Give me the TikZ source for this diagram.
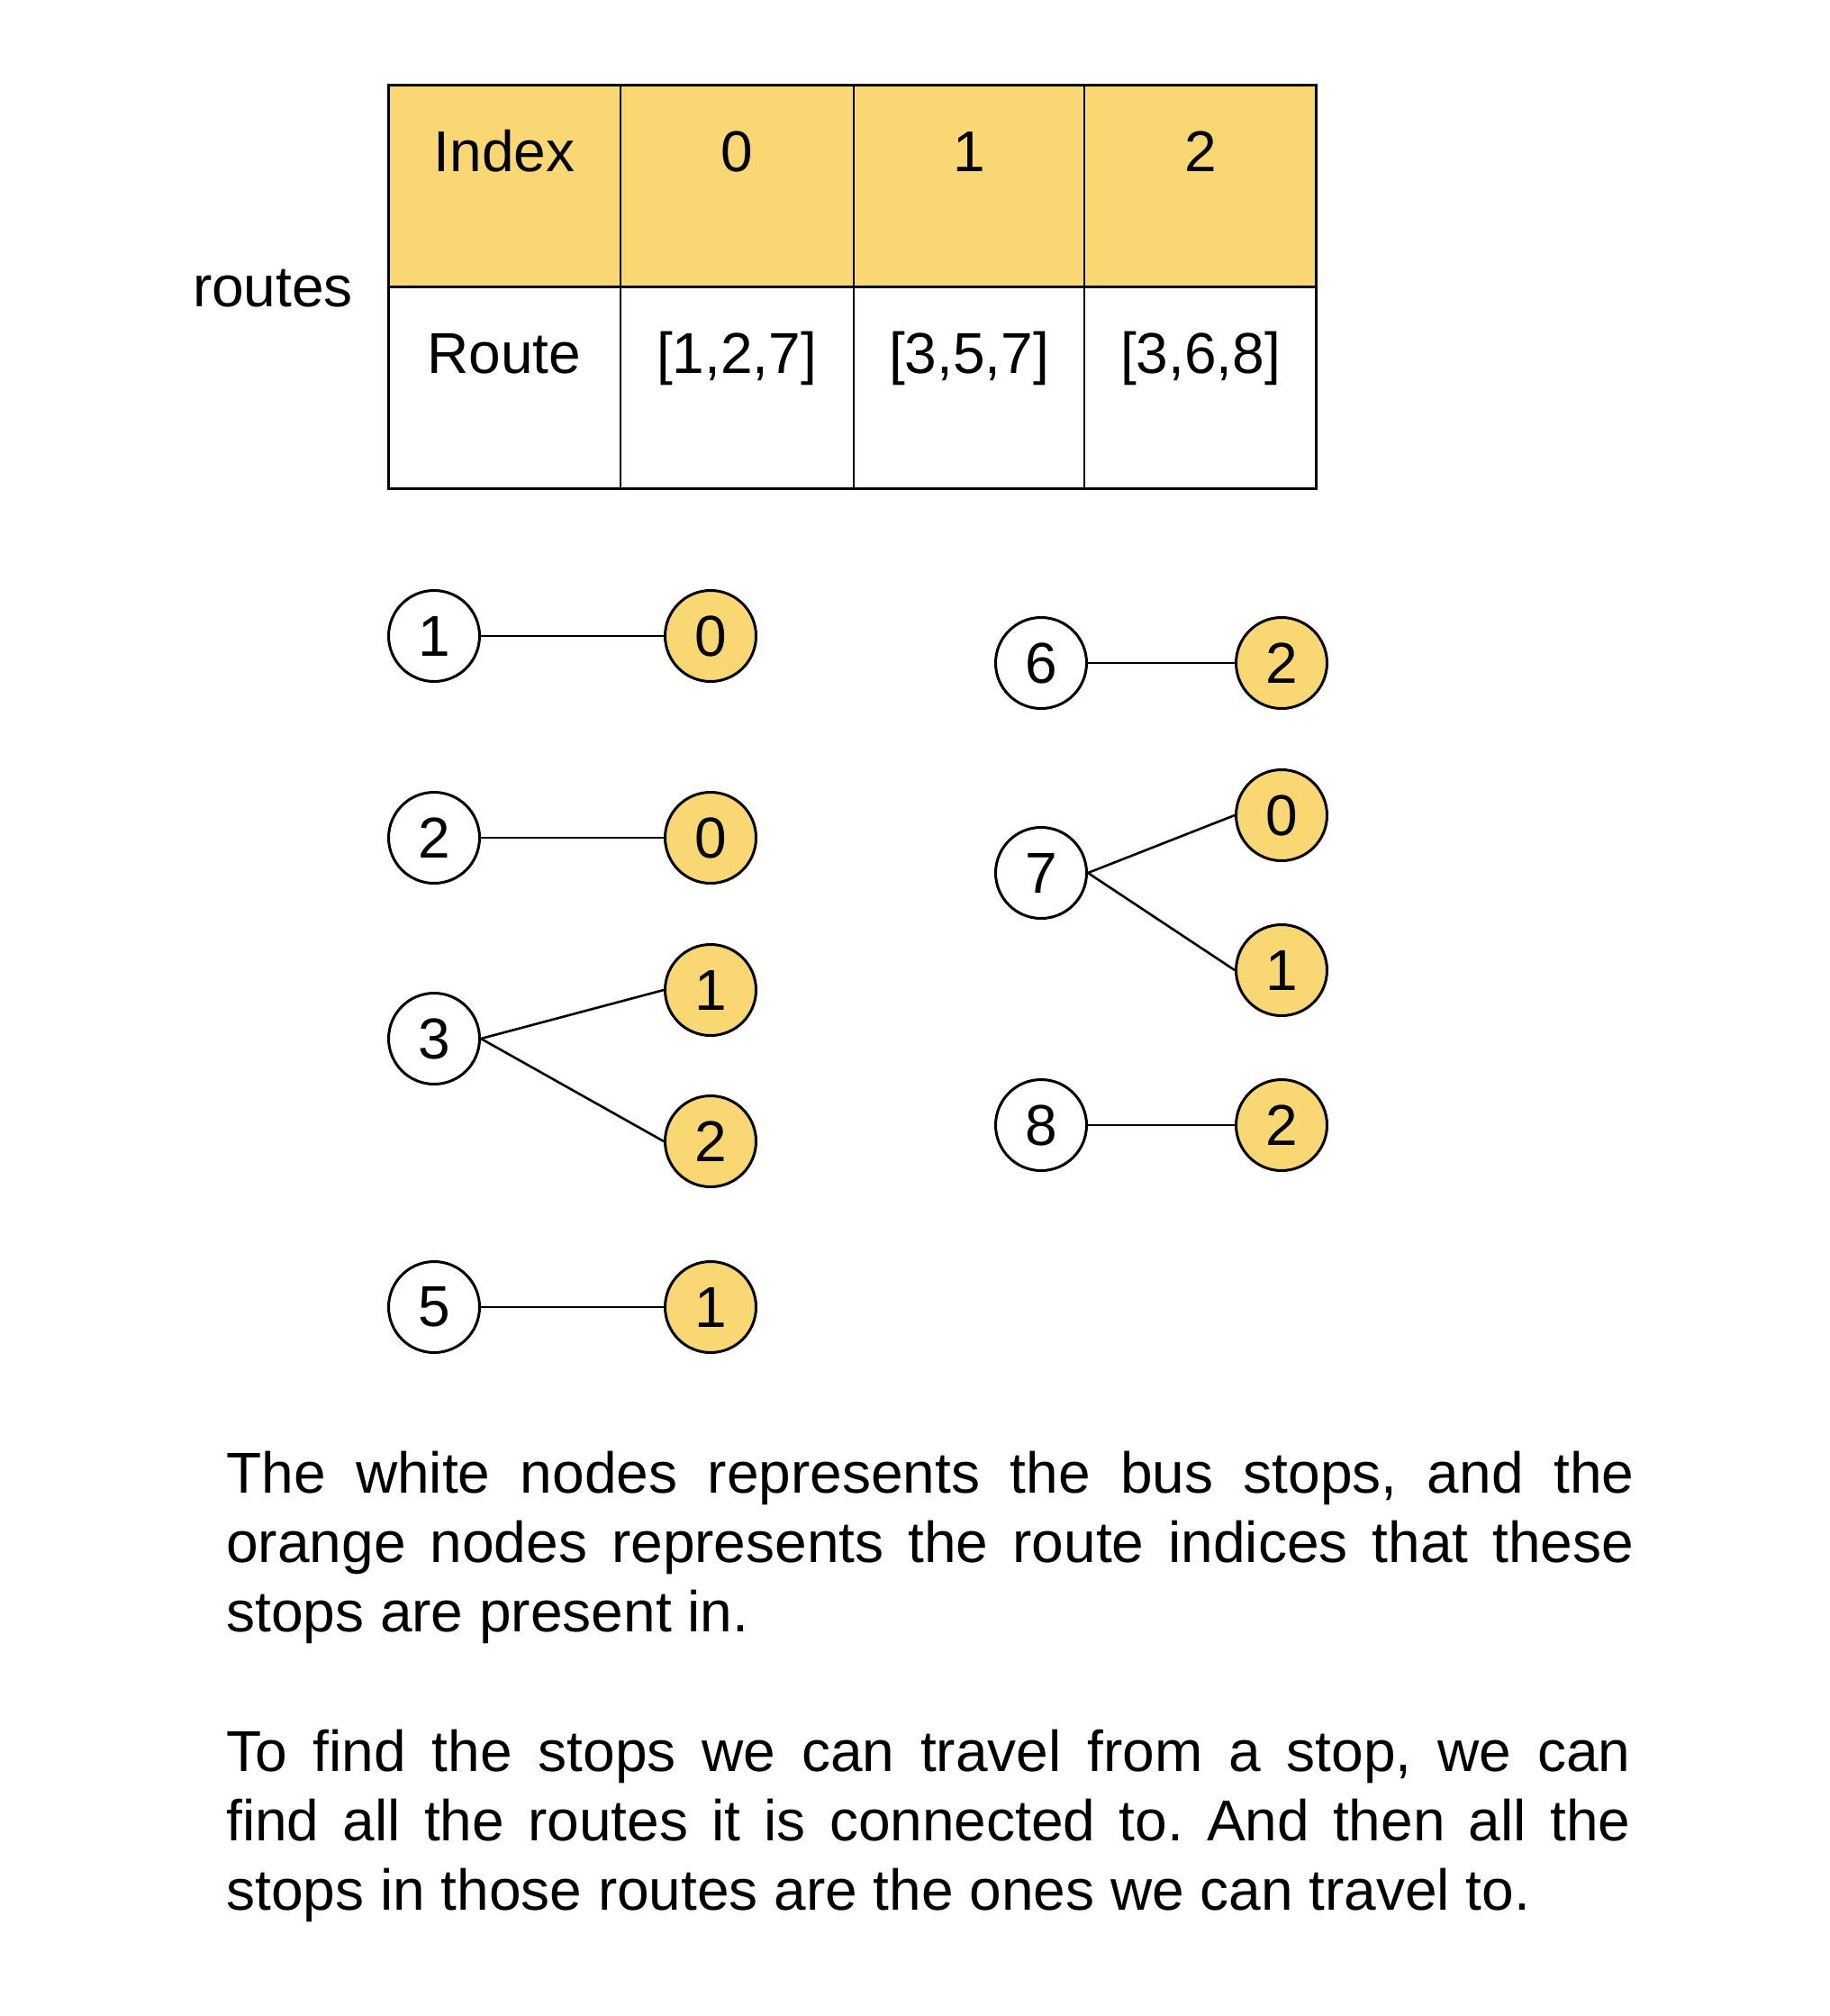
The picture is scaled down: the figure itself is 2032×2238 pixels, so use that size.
\documentclass[tikz,border=0pt]{standalone}
\usepackage{fontspec}
\setmainfont{Liberation Sans}
\definecolor{routeyellow}{HTML}{F9D874}
\frenchspacing
\begin{document}
\begin{tikzpicture}[x=0.5pt,y=-0.5pt]
\tikzset{
  lbl/.style={anchor=base, inner sep=0pt, font=\fontsize{32}{38}\selectfont},
  para/.style={anchor=base west, inner sep=0pt, font=\fontsize{32}{38}\selectfont},
  stop/.style={circle, draw, line width=1.5pt, minimum size=50.5pt, inner sep=0pt, fill=white, font=\fontsize{32}{38}\selectfont},
  ridx/.style={stop, fill=routeyellow},
  link/.style={line width=1.3pt},
  grid/.style={line width=1.5pt}
}
\useasboundingbox (0,0) rectangle (2032,2238);
\fill[white] (0,0) rectangle (2032,2238);
% table
\fill[routeyellow] (431,94) rectangle (1461,318);
\draw[grid] (431,94) rectangle (1461,542);
\draw[grid] (431,318) -- (1461,318);
\draw[line width=1.2pt] (689,94) -- (689,542) (948,94) -- (948,542) (1204,94) -- (1204,542);
\node[lbl] (hidx) at (560,190) {Index};
\node[lbl] (h0) at (818,190) {0};
\node[lbl] (h1) at (1076,190) {1};
\node[lbl] (h2) at (1333,190) {2};
\node[lbl] (rlab) at (560,414) {Route};
\node[lbl] (r0) at (818,414) {[1,2,7]};
\node[lbl] (r1) at (1076,414) {[3,5,7]};
\node[lbl] (r2) at (1333,414) {[3,6,8]};
\node[lbl] (routes) at (303,340) {routes};
% left graph
\node[stop] (s1) at (482,706) {1};
\node[ridx] (a0) at (789,706) {0};
\node[stop] (s2) at (482,930) {2};
\node[ridx] (b0) at (789,930) {0};
\node[stop] (s3) at (482,1153) {3};
\node[ridx] (c1) at (789,1099) {1};
\node[ridx] (c2) at (789,1267) {2};
\node[stop] (s5) at (482,1451) {5};
\node[ridx] (d1) at (789,1451) {1};
\draw[link] (s1) -- (a0);
\draw[link] (s2) -- (b0);
\draw[link] (s3.east) -- (c1.west);
\draw[link] (s3.east) -- (c2.west);
\draw[link] (s5) -- (d1);
% right graph
\node[stop] (s6) at (1156,736) {6};
\node[ridx] (e2) at (1423,736) {2};
\node[stop] (s7) at (1156,969) {7};
\node[ridx] (f0) at (1423,905) {0};
\node[ridx] (f1) at (1423,1077) {1};
\node[stop] (s8) at (1156,1249) {8};
\node[ridx] (g2) at (1423,1249) {2};
\draw[link] (s6) -- (e2);
\draw[link] (s7.east) -- (f0.west);
\draw[link] (s7.east) -- (f1.west);
\draw[link] (s8) -- (g2);
% explanation
\node[para] (p1) at (251,1657) {\makebox[781.5pt][s]{The white nodes represents the bus stops, and the}};
\node[para] (p2) at (251,1734) {\makebox[781.5pt][s]{orange nodes represents the route indices that these}};
\node[para] (p3) at (251,1811) {stops are present in.};
\node[para] (p4) at (251,1966) {\makebox[779.5pt][s]{To find the stops we can travel from a stop, we can}};
\node[para] (p5) at (251,2043) {\makebox[779.5pt][s]{find all the routes it is connected to. And then all the}};
\node[para] (p6) at (251,2120) {stops in those routes are the ones we can travel to.};
\end{tikzpicture}
\end{document}
